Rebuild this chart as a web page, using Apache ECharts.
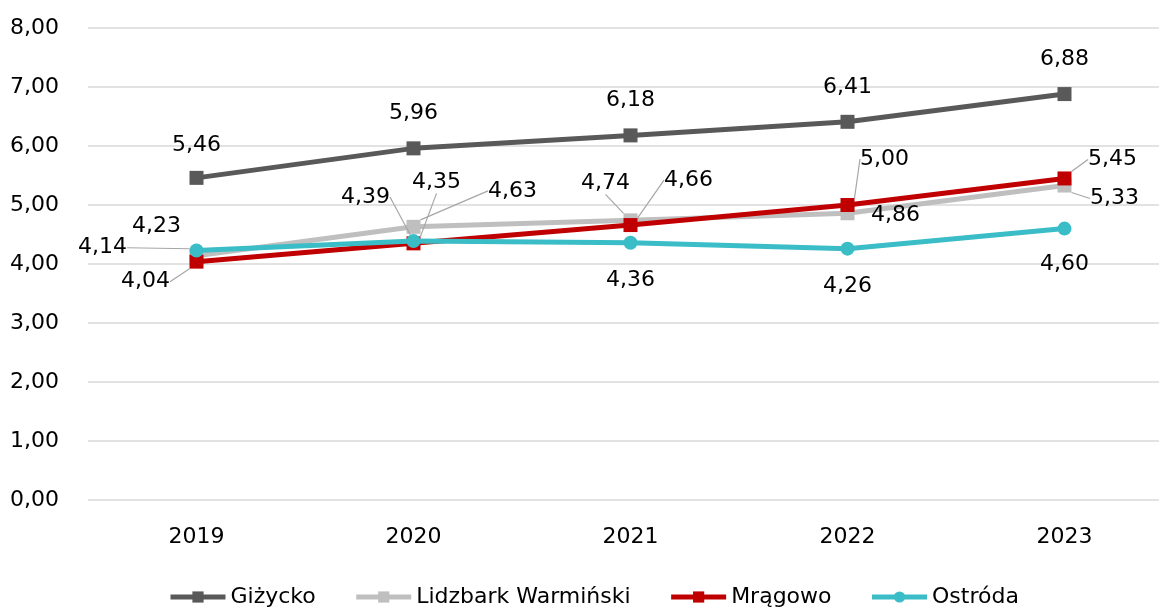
<!DOCTYPE html>
<html>
<head>
<meta charset="utf-8">
<script src="https://cdn.jsdelivr.net/npm/echarts@6/dist/echarts.min.js"></script>
<style>
html,body{margin:0;padding:0;background:#fff;}
#c{width:1159px;height:610px;}
</style>
</head>
<body>
<div id="c"></div>
<script>
const categories = ['2019', '2020', '2021', '2022', '2023'];
const seriesNames = ['Giżycko', 'Lidzbark Warmiński', 'Mrągowo', 'Ostróda'];
const gizycko = [5.46, 5.96, 6.18, 6.41, 6.88];
const lidzbark = [4.14, 4.63, 4.74, 4.86, 5.33];
const mragowo = [4.04, 4.35, 4.66, 5.00, 5.45];
const ostroda = [4.23, 4.39, 4.36, 4.26, 4.60];
const yTicks = [0, 1, 2, 3, 4, 5, 6, 7, 8];

// label offsets (styling), relative to the point
const labelOffsets = [
  [[0,-33],[0,-35],[0,-35],[0,-35],[0,-35]],
  [[-94,-8],[99,-36],[-25,-37],[48,2],[50,13]],
  [[-51,20],[23,-61],[58,-45],[37,-46],[48,-19]],
  [[-40,-24],[-48,-44],[0,38],[0,38],[0,36]]
];
const leaders = [
  [0,0,0,0,0],
  [1,1,1,0,1],
  [1,1,1,1,1],
  [0,1,0,0,0]
];

const FONT = '"DejaVu Sans", sans-serif';
const FS = 22;
const colors = ['#595959', '#BFBFBF', '#C00000', '#3BBDC7'];
const symbols = ['rect', 'rect', 'rect', 'circle'];
const values = [gizycko, lidzbark, mragowo, ostroda];

function fmt(v){ return v.toFixed(2).replace('.', ','); }

const series = values.map((vals, si) => ({
  name: seriesNames[si],
  type: 'line',
  data: vals.map((v, i) => ({
    value: v,
    labelLine: { show: !!leaders[si][i] }
  })),
  symbol: symbols[si],
  symbolSize: 14,
  lineStyle: { width: 5, color: colors[si] },
  itemStyle: { color: colors[si] },
  z: 2 + si,
  label: {
    show: true,
    position: 'inside',
    color: '#000',
    fontFamily: FONT,
    fontSize: FS,
    formatter: p => fmt(p.value)
  },
  labelLine: {
    show: false,
    lineStyle: { color: '#A6A6A6', width: 1.2 }
  },
  labelLayout: p => {
    const o = labelOffsets[p.seriesIndex][p.dataIndex];
    return { dx: o[0], dy: o[1] };
  },
  emphasis: { disabled: true },
  animation: false
}));

const chart = echarts.init(document.getElementById('c'));
chart.setOption({
  backgroundColor: '#fff',
  animation: false,
  color: colors,
  grid: { left: 88, top: 28, width: 1085, height: 472, outerBoundsMode: 'none', containLabel: false },
  legend: {
    top: 581,
    left: 163,
    itemWidth: 55,
    itemHeight: 14,
    itemGap: 38,
    lineStyle: { width: 5 },
    textStyle: { fontFamily: FONT, fontSize: 22, color: '#000' },
    data: seriesNames
  },
  xAxis: {
    type: 'category',
    data: categories,
    boundaryGap: true,
    axisLine: { show: false },
    axisTick: { show: false },
    axisLabel: { margin: 26, fontFamily: FONT, fontSize: FS, color: '#000' }
  },
  yAxis: {
    type: 'value',
    min: yTicks[0],
    max: yTicks[yTicks.length - 1],
    interval: 1,
    axisLine: { show: false },
    axisTick: { show: false },
    splitLine: { lineStyle: { color: '#D9D9D9', width: 1.5 } },
    axisLabel: { margin: 29, fontFamily: FONT, fontSize: FS, color: '#000', formatter: v => fmt(v) }
  },
  series: series
});
</script>
</body>
</html>
